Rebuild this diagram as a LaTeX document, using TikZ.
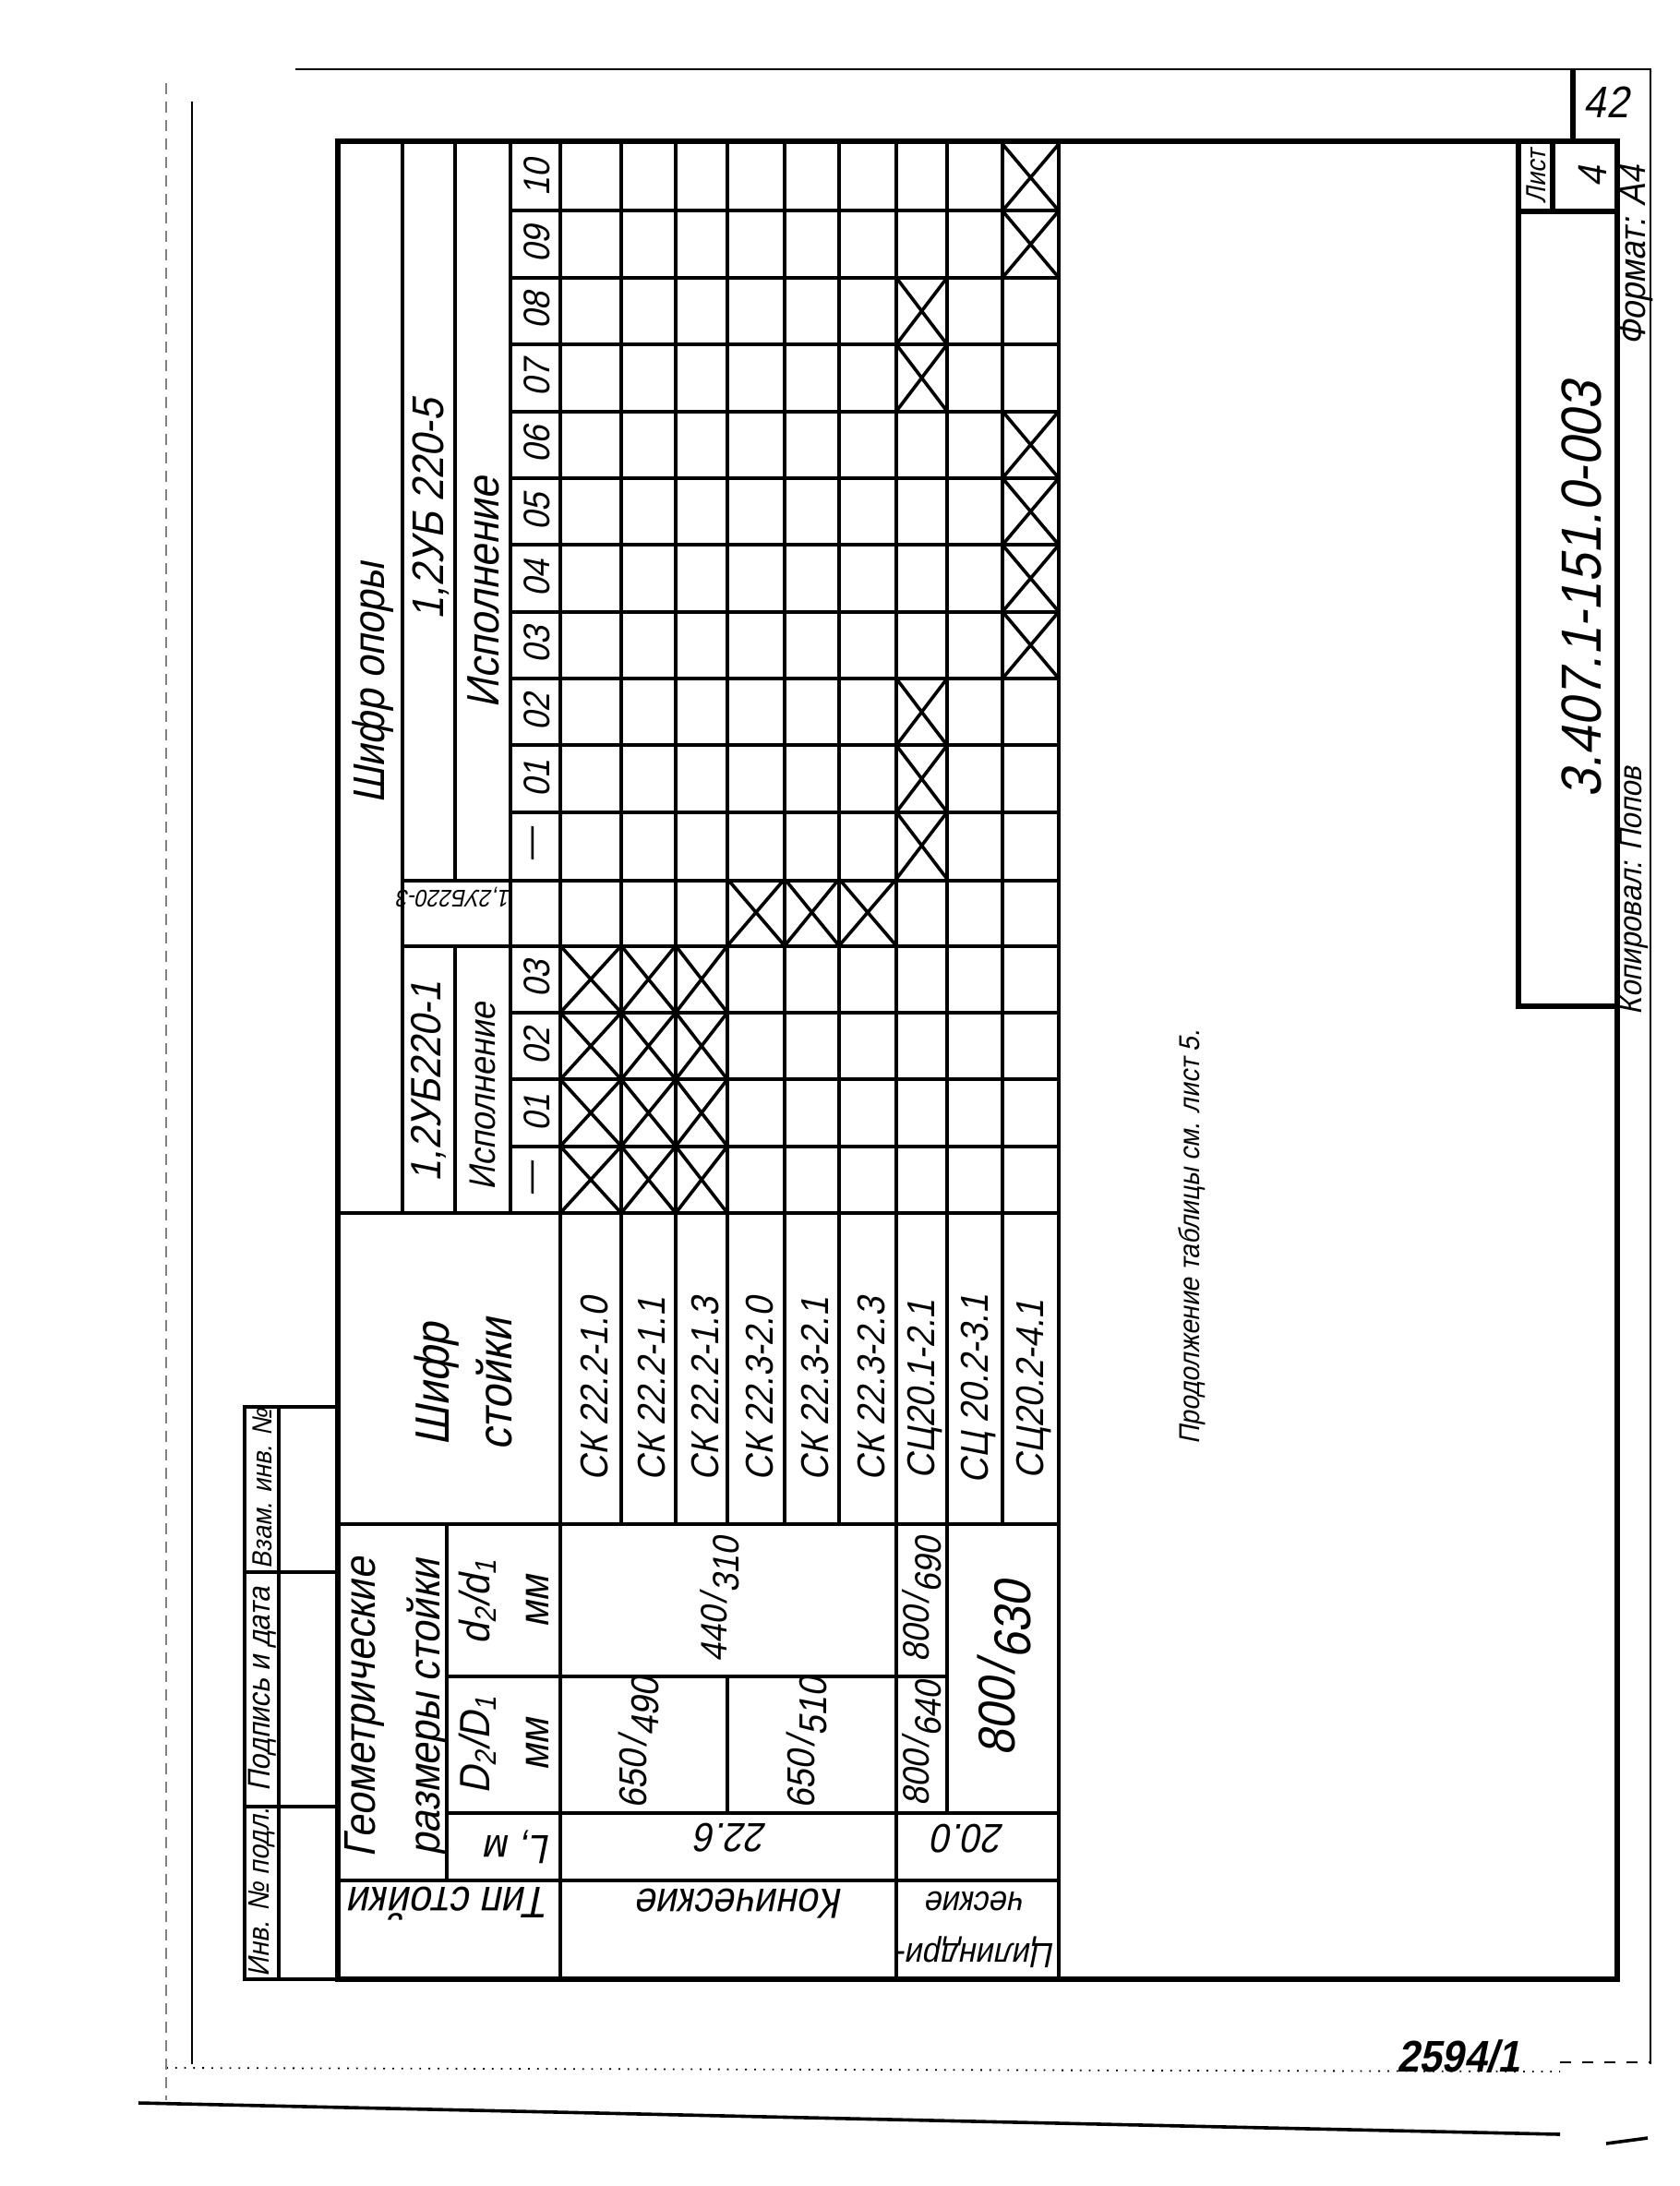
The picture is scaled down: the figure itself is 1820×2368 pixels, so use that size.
\documentclass[tikz,border=0pt]{standalone}
\usepackage{fontspec}
\setmainfont{Liberation Sans}[FakeSlant=0.2, FakeStretch=0.9]
\newcommand\fz[2]{\fontsize{#1}{#2}\selectfont}
\newcommand\frc[2]{#1\kern.08em/\kern.05em\raisebox{-0.6ex}{#2}}
\def\rowx{{607,673,732,788,850,909,971,1026,1086,1147}}

\tikzset{
  frm/.style={line width=1.3pt},
  grd/.style={line width=1pt},
  crs/.style={line width=0.9pt},
  thn/.style={line width=0.45pt},
  lbl/.style={inner sep=0.5pt, rotate=90},
  lblud/.style={inner sep=0.5pt, rotate=180},
}

\begin{document}
\begin{tikzpicture}[x=0.25pt, y=-0.25pt, font=\fz{11}{13}]
\useasboundingbox (0,0) rectangle (1820,2368);
%outer frame and sheet edge
\draw[thn] (320,75) -- (1788,75) -- (1788,2236);
\draw[thn] (208,110) -- (208,2236);
\draw[thn, dotted] (180,2240) -- (1690,2244);
\draw[thn, dashed] (1690,2234) -- (1788,2234);
\draw[thn, densely dashed, gray] (180,90) -- (180,2275);
\draw[line width=0.9pt] (150,2278) -- (1690,2312);
\draw[line width=0.9pt] (1740,2322) -- (1785,2316);
%inner frame, stamps
\draw[frm] (366,153) rectangle (1752,2144);
\draw[frm] (1704,75) -- (1704,153);
\draw[frm] (1645,153) -- (1645,1090) -- (1752,1090);
\draw[frm] (1645,229) -- (1752,229);
\draw[frm] (1682,153) -- (1682,229);
\draw[grd] (265,1524) rectangle (366,2144);
\draw[grd] (302,1524) -- (302,2144);
\draw[grd] (265,1703) -- (366,1703) (265,1957) -- (366,1957);
%table head
\draw[grd] (436,156) -- (436,1314);
\draw[grd] (493,156) -- (493,954) (493,1025) -- (493,1314);
\draw[grd] (553,156) -- (553,1314);
\draw[grd] (607,156) -- (607,2144);
\draw[grd] (1147,156) -- (1147,2144);
\foreach \r in {1,...,8} {
  \pgfmathsetmacro\xa{\rowx[\r]}
  \draw[grd] (\xa,156) -- (\xa,1651);
}
\foreach \j in {1,...,10,13,14,15} {
  \draw[grd] (553,156+72.375*\j) -- (1147,156+72.375*\j);
}
\draw[grd] (436,954) -- (1147,954) (436,1025) -- (1147,1025);
\draw[grd] (366,1314) -- (1147,1314);
%table foot
\draw[grd] (366,1651) -- (1147,1651);
\draw[grd] (484,1651) -- (484,2037);
\draw[grd] (484,1816) -- (1026,1816);
\draw[grd] (484,1964) -- (1147,1964);
\draw[grd] (366,2037) -- (1147,2037);
\draw[grd] (971,1651) -- (971,2144);
\draw[grd] (1026,1651) -- (1026,1964);
\draw[grd] (788,1816) -- (788,1964);
%crosses
\foreach \r/\j in {1/12,1/13,1/14,1/15,2/12,2/13,2/14,2/15,3/12,3/13,3/14,3/15,
  4/11,5/11,6/11,7/2,7/3,7/8,7/9,7/10,9/0,9/1,9/4,9/5,9/6,9/7} {
  \pgfmathsetmacro\xa{\rowx[\r-1]}
  \pgfmathsetmacro\xb{\rowx[\r]}
  \pgfmathsetmacro\ya{156+72.375*\j}
  \pgfmathsetmacro\yb{\ya+72.375}
  \draw[crs] (\xa,\ya) -- (\xb,\yb) (\xa,\yb) -- (\xb,\ya);
}
%Text
\node[lbl, font=\fz{12}{14}] (opora) at (404,740) {Шифр опоры};
\node[lbl, font=\fz{12}{14}] (ub5) at (467,552) {1,2УБ 220-5};
\node[lbl, font=\fz{12.3}{14}] (isp5) at (524,642) {Исполнение};
\node[lblud, font=\fz{6.5}{8}] (ub3) at (492,972) {1,2УБ220-3};
\node[lbl, font=\fz{11.5}{14}] (ub1) at (464,1172) {1,2УБ220-1};
\node[lbl, font=\fz{10}{12}] (isp1) at (523,1188) {Исполнение};
\foreach \t [count=\k from 0] in {10,09,08,07,06,05,04,03,02,01,—,{},03,02,01,—} {
  \node[lbl, font=\fz{10}{12}] (num\k) at (582,156+72.375*\k+36.2) {\t};
}
\node[lbl, align=center, font=\fz{13}{17}] (shst) at (502,1500) {Шифр\\стойки};
\node[lbl, align=center, font=\fz{12}{17.5}] (geom) at (430,1850) {Геометрические\\размеры стойки};
\node[lbl, align=center, font=\fz{11.5}{16}] (dd) at (546,1735) {d\textsubscript{2}/d\textsubscript{1}\\мм};
\node[lbl, align=center, font=\fz{11.5}{16}] (DD) at (546,1890) {D\textsubscript{2}/D\textsubscript{1}\\мм};
\node[lblud, font=\fz{11}{13}] (lm) at (562,2001) {L, м};
\node[lblud, font=\fz{12}{14}] (tip) at (488,2062) {Тип стойки};
\foreach \t [count=\k] in {СК 22.2-1.0,СК 22.2-1.1,СК 22.2-1.3,СК 22.3-2.0,СК 22.3-2.1,
  СК 22.3-2.3,СЦ20.1-2.1,СЦ 20.2-3.1,СЦ20.2-4.1} {
  \pgfmathsetmacro\xa{\rowx[\k-1]}
  \pgfmathsetmacro\xb{\rowx[\k]}
  \pgfmathsetmacro\xc{(\xa+\xb)/2+4}
  \node[lbl, font=\fz{10.5}{12}] (st\k) at (\xc,1505) {\t};
}
\node[lbl, font=\fz{10}{12}] (v440) at (780,1733) {\frc{440}{310}};
\node[lbl, font=\fz{10.5}{13}] (v490) at (692,1888) {\frc{650}{490}};
\node[lbl, font=\fz{10.5}{13}] (v510) at (874,1888) {\frc{650}{510}};
\node[lbl, font=\fz{10}{12}] (v690) at (999,1733) {\frc{800}{690}};
\node[lbl, font=\fz{10}{12}] (v640) at (999,1889) {\frc{800}{640}};
\node[lbl, font=\fz{14}{16}] (v630) at (1088,1808) {\frc{800}{630}};
\node[lblud, font=\fz{11}{13}] (l226) at (793,1991) {22.6};
\node[lblud, font=\fz{11}{13}] (l200) at (1050,1992) {20.0};
\node[lblud, font=\fz{11.5}{13}] (kon) at (803,2062) {Конические};
\node[lblud, align=center, font=\fz{9.5}{14}] (cyl) at (1058,2090) {Цилиндри-\\ческие};
\node[lbl, font=\fz{7.8}{10}] (prod) at (1291,1340) {Продолжение таблицы см. лист 5.};
\node[lbl, font=\fz{15.3}{17}] (oboz) at (1713,639) {3.407.1-151.0-003};
\node[lbl, font=\fz{7.5}{9}] (list) at (1664,191) {Лист};
\node[lbl, font=\fz{11}{13}] (listn) at (1725,191) {4};
\node[lbl, font=\fz{10}{12}] (fmt) at (1773,277) {Формат: А4};
\node[lbl, font=\fz{8.7}{10}] (kop) at (1770,965) {Копировал: Попов};
\node[font=\fz{12}{14}] (pg) at (1740,111) {42};
\node[font=\fz{12}{14}\bfseries] (inv) at (1580,2228) {2594/1};
\node[lbl, font=\fz{7.5}{9}] (vzam) at (284,1613) {Взам. инв. №};
\node[lbl, font=\fz{8.5}{10}] (podp) at (284,1830) {Подпись и дата};
\node[lbl, font=\fz{8}{10}] (invp) at (284,2050) {Инв. № подл.};
\end{tikzpicture}
\end{document}
